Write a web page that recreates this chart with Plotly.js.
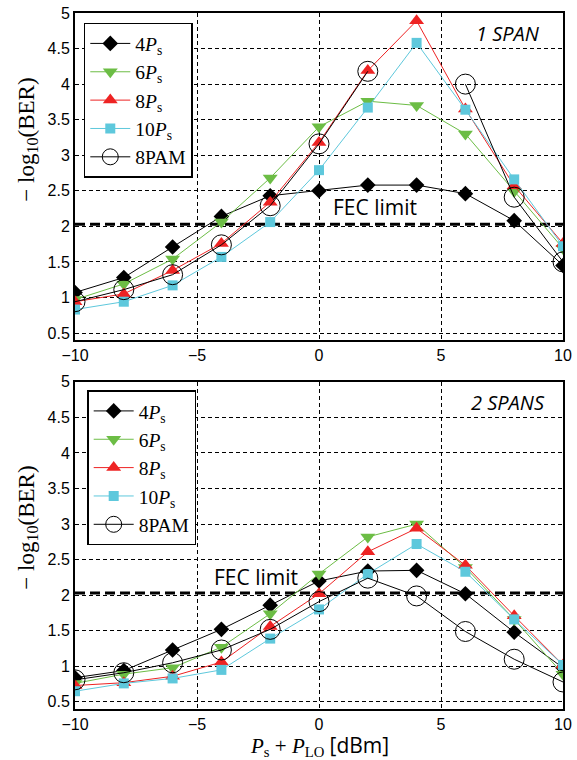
<!DOCTYPE html>
<html>
<head>
<meta charset="utf-8">
<script src="https://cdn.plot.ly/plotly-3.0.1.min.js"></script>
<style>html,body{margin:0;padding:0;background:#fff;}#chart{width:577px;height:760px;}</style>
</head>
<body>
<div id="chart"></div>
<script>
// Shared x values: P_s + P_LO [dBm]
const power = [-10, -8, -6, -4, -2, 0, 2, 4, 6, 8, 10];

// 1 SPAN: -log10(BER)
const span1_4Ps  = [1.07, 1.28, 1.71, 2.14, 2.43, 2.50, 2.58, 2.58, 2.46, 2.08, 1.45];
const span1_6Ps  = [0.97, 1.19, 1.54, 2.06, 2.68, 3.40, 3.76, 3.70, 3.30, 2.49, 1.69];
const span1_8Ps  = [0.94, 1.05, 1.38, 1.76, 2.34, 3.18, 4.19, 4.89, 3.65, 2.57, 1.76];
const span1_10Ps = [0.83, 0.94, 1.17, 1.57, 2.06, 2.79, 3.67, 4.58, 3.64, 2.66, 1.72];
const span1_8PAM = [0.94, 1.11, 1.32, 1.74, 2.29, 3.16, 4.18, null, 4.00, 2.41, 1.50];

// 2 SPANS: -log10(BER)
const span2_4Ps  = [0.84, 0.94, 1.23, 1.52, 1.86, 2.20, 2.34, 2.35, 2.02, 1.48, 0.98];
const span2_6Ps  = [0.76, 0.89, 0.98, 1.27, 1.74, 2.30, 2.82, 3.00, 2.39, 1.66, 0.89];
const span2_8Ps  = [0.73, 0.77, 0.86, 1.06, 1.56, 2.02, 2.61, 2.94, 2.42, 1.71, 1.02];
const span2_10Ps = [0.65, 0.76, 0.83, 0.95, 1.39, 1.80, 2.30, 2.72, 2.33, 1.66, 1.02];
const span2_8PAM = [0.81, 0.91, 1.05, 1.23, 1.52, 1.91, 2.24, 1.99, 1.49, 1.10, 0.78];

const seriesNames = ['4<i>P</i><sub>s</sub>', '6<i>P</i><sub>s</sub>', '8<i>P</i><sub>s</sub>', '10<i>P</i><sub>s</sub>', '8PAM'];
const fecLimit = 2.03;
const yTicks = [0.5, 1, 1.5, 2, 2.5, 3, 3.5, 4, 4.5, 5];

const styles = [
  {color: '#000000', symbol: 'diamond', size: 12, mline: '#000000', mwidth: 0},
  {color: '#6cbd45', symbol: 'triangle-down', size: 13, mline: '#6cbd45', mwidth: 0},
  {color: '#ee2323', symbol: 'triangle-up', size: 13, mline: '#ee2323', mwidth: 0},
  {color: '#5ec8dc', symbol: 'square', size: 10, mline: '#5ec8dc', mwidth: 0},
  {color: '#000000', symbol: 'circle-open', size: 20, mline: '#000000', mwidth: 1}
];

function makeTraces(sets, xa, ya, leg) {
  return sets.map((ys, i) => {
    const s = styles[i];
    return {
      x: power, y: ys, xaxis: xa, yaxis: ya, legend: leg,
      type: 'scatter', mode: 'lines+markers', name: seriesNames[i],
      connectgaps: false,
      line: {color: s.color, width: 1},
      marker: {symbol: s.symbol, size: s.size, color: s.color,
               line: {color: s.mline, width: s.mwidth}}
    };
  });
}

function fecTrace(xa, ya) {
  return {
    x: [power[0], power[power.length - 1]], y: [fecLimit, fecLimit],
    xaxis: xa, yaxis: ya, type: 'scatter', mode: 'lines', showlegend: false,
    line: {color: '#000', width: 3, dash: '10px,5px'}, hoverinfo: 'skip'
  };
}

const data = [
  fecTrace('x', 'y'),
  ...makeTraces([span1_4Ps, span1_6Ps, span1_8Ps, span1_10Ps, span1_8PAM], 'x', 'y', 'legend'),
  fecTrace('x2', 'y2'),
  ...makeTraces([span2_4Ps, span2_6Ps, span2_8Ps, span2_10Ps, span2_8PAM], 'x2', 'y2', 'legend2')
];

const tickFont = {family: 'Liberation Sans, Arial, sans-serif', size: 16, color: '#000'};
function xAxis(anchor) {
  return {
    anchor: anchor, domain: [0, 1], range: [-10, 10], tickvals: [-10, -5, 0, 5, 10],
    showgrid: true, gridcolor: '#000', griddash: '4px,3px', gridwidth: 1,
    showline: true, linecolor: '#000', linewidth: 2, mirror: true,
    zeroline: false, ticks: '', tickfont: tickFont
  };
}
function yAxis(anchor, domain) {
  return {
    anchor: anchor, domain: domain, range: [0.4, 5], tickvals: yTicks,
    showgrid: true, gridcolor: '#000', griddash: '4px,3px', gridwidth: 1,
    showline: true, linecolor: '#000', linewidth: 2, mirror: true,
    zeroline: false, ticks: '', tickfont: tickFont
  };
}

const legFont = {family: 'Liberation Serif, DejaVu Serif, serif', size: 19.5, color: '#000'};
function legend(x, y) {
  return {x: x, y: y, xanchor: 'left', yanchor: 'top', bgcolor: '#fff',
          bordercolor: '#000', borderwidth: 1.5, font: legFont, itemwidth: 40,
          tracegroupgap: 0};
}

const serif = 'Liberation Serif, DejaVu Serif, serif';
const sans = 'Open Sans, Liberation Sans, sans-serif';

const layout = {
  width: 577, height: 760,
  margin: {l: 75, r: 14, t: 13, b: 51},
  paper_bgcolor: '#fff', plot_bgcolor: '#fff',
  showlegend: true,
  xaxis: xAxis('y'),
  yaxis: yAxis('x', [0.530, 1]),
  xaxis2: xAxis('y2'),
  yaxis2: yAxis('x2', [0, 0.470]),
  legend: legend(0.018, 0.986),
  legend2: legend(0.025, 0.458),
  annotations: [
    {text: '1 SPAN', x: 7.75, y: 4.71, xref: 'x', yref: 'y', showarrow: false,
     font: {family: sans, size: 20, color: '#000', style: 'italic'}},
    {text: '2 SPANS', x: 7.75, y: 4.71, xref: 'x2', yref: 'y2', showarrow: false,
     font: {family: sans, size: 20, color: '#000', style: 'italic'}},
    {text: 'FEC limit', x: 2.3, y: 2.27, xref: 'x', yref: 'y', showarrow: false,
     font: {family: sans, size: 21, color: '#000'}},
    {text: 'FEC limit', x: -2.6, y: 2.25, xref: 'x2', yref: 'y2', showarrow: false,
     font: {family: sans, size: 21, color: '#000'}},
    {text: '− log<sub>10</sub>(BER)', textangle: -90, xref: 'paper', yref: 'paper',
     x: -0.097, y: 0.8175, xanchor: 'center', yanchor: 'middle', showarrow: false,
     font: {family: serif, size: 23, color: '#000'}},
    {text: '− log<sub>10</sub>(BER)', textangle: -90, xref: 'paper', yref: 'paper',
     x: -0.097, y: 0.26, xanchor: 'center', yanchor: 'middle', showarrow: false,
     font: {family: serif, size: 23, color: '#000'}},
    {text: '<i>P</i><sub>s</sub> + <i>P</i><sub>LO</sub> <span style="font-family:Open Sans, Liberation Sans, sans-serif">[dBm]</span>',
     xref: 'x2', yref: 'paper',
     x: 0, y: -0.052, xanchor: 'center', yanchor: 'middle', showarrow: false,
     font: {family: serif, size: 21, color: '#000'}}
  ]
};

Plotly.newPlot('chart', data, layout, {displayModeBar: false, staticPlot: true});
</script>
</body>
</html>
